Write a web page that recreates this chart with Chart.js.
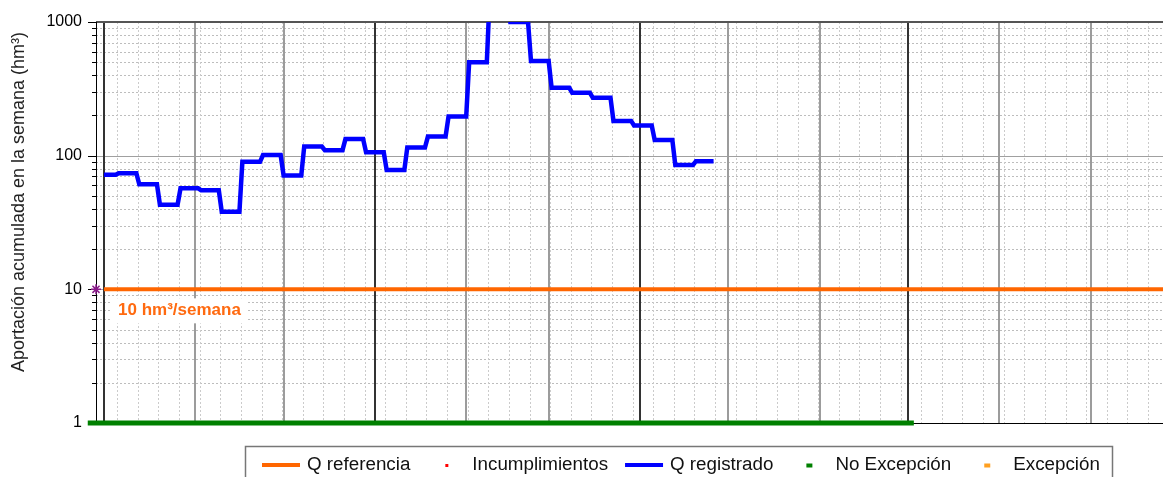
<!DOCTYPE html>
<html lang="es">
<head>
<meta charset="UTF-8" />
<title>Aportación acumulada semanal</title>
<script src="https://cdn.jsdelivr.net/npm/chart.js"></script>
<style>
  html, body { margin: 0; padding: 0; background: #fff; overflow: hidden; }
  #chart { display: block; }
</style>
</head>
<body>
<canvas id="chart" width="1164" height="477"></canvas>
<script>
// x axis: days counted from 1 October (day 0)
const xMin = -2.7;
const xMax = 359.6;
const monthStarts = [0, 31, 61, 92, 123, 151, 182, 212, 243, 273, 304, 335];
const quarterStarts = [0, 92, 182, 273];
const firstWeekLine = 4.5;

// y axis (log)
const yTicks = [1, 2, 3, 4, 5, 6, 7, 8, 9, 10, 20, 30, 40, 50, 60, 70, 80, 90,
  100, 200, 300, 400, 500, 600, 700, 800, 900, 1000];
const yLabels = [1, 10, 100, 1000];

// Q registrado: first day of each week and its accumulated value (hm³)
const weekStarts = [0, 5, 12, 19, 26, 33, 40, 47, 54, 61, 68, 75, 82, 89, 96,
  103, 110, 117, 124, 131, 138, 145, 152, 159, 166, 173, 180, 187, 194, 201];
const registrado = [72, 74, 61, 43, 57, 55, 38, 90, 101, 71, 117, 110, 133, 106, 78,
  115, 139, 196, 499, 1600, 1000, 511, 322, 295, 271, 182, 168, 131, 85, 91];

// Q referencia
const referencia = 10;
const referenciaDays = [0, 365];

// No Excepción (drawn on the bottom of the axis)
const noExcepcion = 1;
const noExcepcionDays = [-5.5, 275];

// lone marker at the start of the reference line
const marcaInicio = [{ x: -2.7, y: 10 }];

const legendLabels = ["Q referencia", "Incumplimientos", "Q registrado", "No Excepción", "Excepción"];
const refText = "10 hm³/semana";
const yTitle = "Aportación acumulada en la semana (hm³)";

const FONT = '"Liberation Sans", Arial, sans-serif';

function registradoPoints() {
  const pts = [];
  weekStarts.forEach((start, i) => {
    const end = i + 1 < weekStarts.length ? weekStarts[i + 1] - 1 : start + 6;
    pts.push({ x: start, y: registrado[i] });
    pts.push({ x: end, y: registrado[i] });
  });
  return pts;
}

function line(ctx, x1, y1, x2, y2) {
  ctx.beginPath();
  ctx.moveTo(x1, y1);
  ctx.lineTo(x2, y2);
  ctx.stroke();
}

const isMajor = (v) => yLabels.includes(v);

const gridPlugin = {
  id: "gridPlugin",
  beforeDatasetsDraw(chart) {
    const { ctx, chartArea: a, scales: { x, y } } = chart;
    ctx.save();
    ctx.beginPath();
    ctx.rect(a.left, a.top - 2, a.right - a.left, a.bottom - a.top + 4);
    ctx.clip();

    // minor horizontal lines
    ctx.lineWidth = 1;
    ctx.setLineDash([2, 2]);
    ctx.strokeStyle = "#bdbdbd";
    yTicks.forEach((v) => {
      if (isMajor(v)) return;
      const py = Math.round(y.getPixelForValue(v)) + 0.5;
      line(ctx, a.left, py, a.right, py);
    });
    // weekly vertical lines
    ctx.strokeStyle = "#cbcbcb";
    for (let d = firstWeekLine; d <= xMax; d += 7) {
      const px = Math.round(x.getPixelForValue(d)) + 0.5;
      line(ctx, px, a.top, px, a.bottom);
    }
    ctx.setLineDash([]);

    // decades
    ctx.strokeStyle = "#a0a0a0";
    [10, 100].forEach((v) => {
      const py = Math.round(y.getPixelForValue(v)) + 0.5;
      line(ctx, a.left, py, a.right, py);
    });

    // months
    ctx.lineWidth = 2;
    ctx.strokeStyle = "#9c9c9c";
    monthStarts.forEach((d) => {
      if (quarterStarts.includes(d)) return;
      const px = Math.round(x.getPixelForValue(d));
      line(ctx, px, a.top, px, a.bottom);
    });
    ctx.strokeStyle = "#333";
    quarterStarts.forEach((d) => {
      const px = Math.round(x.getPixelForValue(d));
      line(ctx, px, a.top, px, a.bottom);
    });

    // top border
    ctx.strokeStyle = "#555";
    line(ctx, a.left, a.top, a.right, a.top);
    ctx.restore();

    // axes
    ctx.save();
    ctx.strokeStyle = "#000";
    ctx.lineWidth = 1;
    line(ctx, a.left + 0.5, a.top, a.left + 0.5, a.bottom + 1);
    line(ctx, a.left, a.bottom + 0.5, a.right, a.bottom + 0.5);
    yTicks.forEach((v) => {
      const py = Math.round(y.getPixelForValue(v)) + 0.5;
      line(ctx, a.left - (isMajor(v) ? 8 : 4), py, a.left, py);
    });
    ctx.restore();
  },
  afterDraw(chart) {
    const { ctx, scales: { y } } = chart;
    ctx.save();

    // y title
    ctx.translate(19, 202);
    ctx.rotate(-Math.PI / 2);
    ctx.font = "18px " + FONT;
    ctx.fillStyle = "#222";
    ctx.textAlign = "center";
    ctx.textBaseline = "middle";
    ctx.fillText(yTitle, 0, 0);
    ctx.restore();

    // reference label
    ctx.save();
    ctx.font = "bold 17px " + FONT;
    const tw = ctx.measureText(refText).width;
    const ty = y.getPixelForValue(referencia) + 26;
    ctx.fillStyle = "#fff";
    ctx.fillRect(111, ty - 17, tw + 14, 25);
    ctx.fillStyle = "#ff6a10";
    ctx.textBaseline = "alphabetic";
    ctx.fillText(refText, 118, ty);
    ctx.restore();

    // legend
    ctx.save();
    const boxL = 245, boxT = 446, boxR = 1112;
    ctx.fillStyle = "#fff";
    ctx.fillRect(boxL, boxT, boxR - boxL, 40);
    ctx.strokeStyle = "#777";
    ctx.lineWidth = 1.5;
    ctx.strokeRect(boxL + 0.5, boxT + 0.5, boxR - boxL, 40);
    ctx.font = "18.8px " + FONT;
    ctx.textBaseline = "middle";
    const ly = 465;
    const styles = [
      { type: "line", color: "#ff6600" },
      { type: "dot", color: "#ff0000" },
      { type: "line", color: "#0000ff" },
      { type: "dash", color: "#008000" },
      { type: "dash", color: "#ffa020" },
    ];
    let cx = 262;
    legendLabels.forEach((label, i) => {
      const s = styles[i];
      if (s.type === "line") {
        ctx.strokeStyle = s.color;
        ctx.lineWidth = 4;
        line(ctx, cx, ly, cx + 38, ly);
      } else if (s.type === "dot") {
        ctx.fillStyle = s.color;
        ctx.fillRect(cx + 18, ly - 1, 3, 3);
      } else {
        ctx.fillStyle = s.color;
        ctx.fillRect(cx + 16, ly - 1.5, 6, 4);
      }
      ctx.fillStyle = "#111";
      ctx.fillText(label, cx + 45, ly);
      cx += 45 + ctx.measureText(label).width + 17;
    });
    ctx.restore();
  },
};

new Chart(document.getElementById("chart"), {
  type: "line",
  data: {
    datasets: [
      {
        label: legendLabels[0],
        data: referenciaDays.map((d) => ({ x: d, y: referencia })),
        borderColor: "#ff6600",
        borderWidth: 4,
        pointRadius: 0,
      },
      {
        label: legendLabels[3],
        data: noExcepcionDays.map((d) => ({ x: d, y: noExcepcion })),
        borderColor: "#008000",
        borderWidth: 5,
        pointRadius: 0,
        clip: false,
      },
      {
        label: legendLabels[2],
        data: registradoPoints(),
        borderColor: "#0000ff",
        borderWidth: 4.5,
        pointRadius: 0,
        tension: 0,
      },
      {
        label: "inicio",
        data: marcaInicio,
        showLine: false,
        pointStyle: "star",
        pointRadius: 5,
        borderColor: "#8a1a8a",
        borderWidth: 1.5,
        clip: false,
      },
    ],
  },
  options: {
    responsive: false,
    animation: false,
    events: [],
    layout: { autoPadding: false, padding: { left: 0, top: 22, right: 1, bottom: 54 } },
    plugins: { legend: { display: false }, tooltip: { enabled: false } },
    scales: {
      x: { type: "linear", display: false, min: xMin, max: xMax },
      y: {
        type: "logarithmic",
        min: 1,
        max: 1000,
        afterBuildTicks: (s) => { s.ticks = yTicks.map((v) => ({ value: v })); },
        afterFit: (s) => { s.width = 96; },
        grid: { display: false },
        border: { display: false },
        ticks: {
          autoSkip: false,
          padding: 6,
          color: "#000",
          font: { family: FONT, size: 16 },
          callback: (v) => (isMajor(v) ? String(v) : ""),
        },
      },
    },
  },
  plugins: [gridPlugin],
});
</script>
</body>
</html>
